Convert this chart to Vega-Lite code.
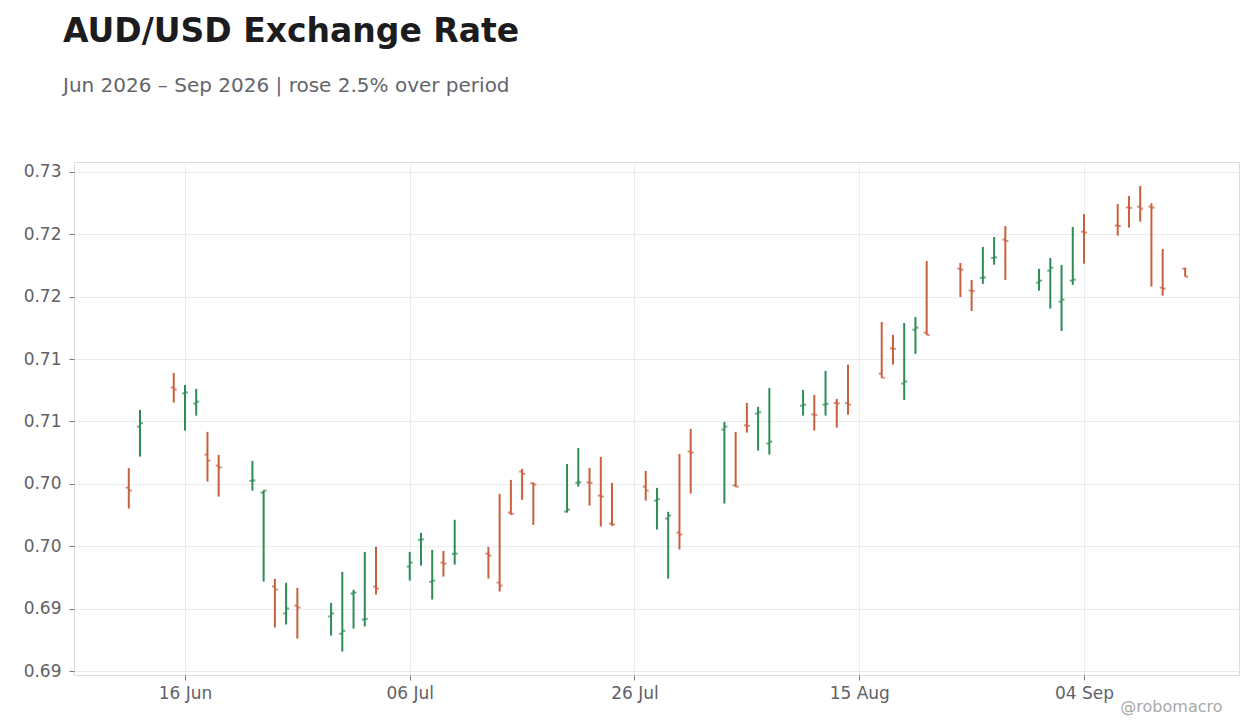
{
  "$schema": "https://vega.github.io/schema/vega-lite/v6.json",
  "width": 1165,
  "height": 513,
  "autosize": "none",
  "padding": {"left": 74, "top": 162, "right": 21, "bottom": 53},
  "background": "white",
  "title": {
    "text": "AUD/USD Exchange Rate",
    "subtitle": "Jun 2026 – Sep 2026 | rose 2.5% over period",
    "anchor": "start",
    "frame": "group",
    "dx": -11,
    "offset": 66,
    "font": "DejaVu Sans",
    "fontSize": 33,
    "fontWeight": "bold",
    "color": "#1c1c1e",
    "subtitleFont": "DejaVu Sans",
    "subtitleFontSize": 20,
    "subtitleColor": "#63656b",
    "subtitlePadding": 27
  },
  "config": {
    "font": "DejaVu Sans",
    "view": {"stroke": "#dcdcdc", "strokeWidth": 1}
  },
  "data": {
    "values": [
      {"d": "2026-06-11", "o": 0.70470, "h": 0.70626, "l": 0.70302, "c": 0.70446},
      {"d": "2026-06-12", "o": 0.70959, "h": 0.71093, "l": 0.70719, "c": 0.70986},
      {"d": "2026-06-15", "o": 0.71272, "h": 0.71389, "l": 0.71151, "c": 0.71256},
      {"d": "2026-06-16", "o": 0.71225, "h": 0.71293, "l": 0.70927, "c": 0.71233},
      {"d": "2026-06-17", "o": 0.71143, "h": 0.71261, "l": 0.71047, "c": 0.71159},
      {"d": "2026-06-18", "o": 0.70735, "h": 0.70917, "l": 0.70518, "c": 0.70687},
      {"d": "2026-06-19", "o": 0.70647, "h": 0.70732, "l": 0.70398, "c": 0.70631},
      {"d": "2026-06-22", "o": 0.70524, "h": 0.70684, "l": 0.70446, "c": 0.70528},
      {"d": "2026-06-23", "o": 0.70430, "h": 0.70448, "l": 0.69717, "c": 0.70446},
      {"d": "2026-06-24", "o": 0.69677, "h": 0.69739, "l": 0.69349, "c": 0.69653},
      {"d": "2026-06-25", "o": 0.69461, "h": 0.69707, "l": 0.69373, "c": 0.69501},
      {"d": "2026-06-26", "o": 0.69525, "h": 0.69667, "l": 0.69260, "c": 0.69509},
      {"d": "2026-06-29", "o": 0.69437, "h": 0.69546, "l": 0.69284, "c": 0.69461},
      {"d": "2026-06-30", "o": 0.69298, "h": 0.69795, "l": 0.69156, "c": 0.69322},
      {"d": "2026-07-01", "o": 0.69621, "h": 0.69651, "l": 0.69340, "c": 0.69629},
      {"d": "2026-07-02", "o": 0.69413, "h": 0.69955, "l": 0.69357, "c": 0.69418},
      {"d": "2026-07-03", "o": 0.69677, "h": 0.69995, "l": 0.69613, "c": 0.69661},
      {"d": "2026-07-06", "o": 0.69837, "h": 0.69955, "l": 0.69725, "c": 0.69869},
      {"d": "2026-07-07", "o": 0.70051, "h": 0.70107, "l": 0.69845, "c": 0.70055},
      {"d": "2026-07-08", "o": 0.69715, "h": 0.69971, "l": 0.69573, "c": 0.69725},
      {"d": "2026-07-09", "o": 0.69869, "h": 0.69963, "l": 0.69757, "c": 0.69861},
      {"d": "2026-07-10", "o": 0.69939, "h": 0.70212, "l": 0.69853, "c": 0.69941},
      {"d": "2026-07-13", "o": 0.69941, "h": 0.69995, "l": 0.69741, "c": 0.69925},
      {"d": "2026-07-14", "o": 0.69709, "h": 0.70420, "l": 0.69637, "c": 0.69685},
      {"d": "2026-07-15", "o": 0.70270, "h": 0.70532, "l": 0.70252, "c": 0.70260},
      {"d": "2026-07-16", "o": 0.70599, "h": 0.70620, "l": 0.70372, "c": 0.70580},
      {"d": "2026-07-17", "o": 0.70506, "h": 0.70510, "l": 0.70171, "c": 0.70494},
      {"d": "2026-07-20", "o": 0.70278, "h": 0.70660, "l": 0.70270, "c": 0.70294},
      {"d": "2026-07-21", "o": 0.70508, "h": 0.70788, "l": 0.70478, "c": 0.70512},
      {"d": "2026-07-22", "o": 0.70512, "h": 0.70628, "l": 0.70326, "c": 0.70508},
      {"d": "2026-07-23", "o": 0.70406, "h": 0.70716, "l": 0.70158, "c": 0.70398},
      {"d": "2026-07-24", "o": 0.70182, "h": 0.70508, "l": 0.70163, "c": 0.70174},
      {"d": "2026-07-27", "o": 0.70478, "h": 0.70604, "l": 0.70366, "c": 0.70446},
      {"d": "2026-07-28", "o": 0.70366, "h": 0.70468, "l": 0.70134, "c": 0.70377},
      {"d": "2026-07-29", "o": 0.70222, "h": 0.70276, "l": 0.69741, "c": 0.70246},
      {"d": "2026-07-30", "o": 0.70110, "h": 0.70740, "l": 0.69974, "c": 0.70094},
      {"d": "2026-07-31", "o": 0.70759, "h": 0.70941, "l": 0.70422, "c": 0.70751},
      {"d": "2026-08-03", "o": 0.70935, "h": 0.70997, "l": 0.70342, "c": 0.70959},
      {"d": "2026-08-04", "o": 0.70488, "h": 0.70917, "l": 0.70476, "c": 0.70478},
      {"d": "2026-08-05", "o": 0.70969, "h": 0.71149, "l": 0.70911, "c": 0.70965},
      {"d": "2026-08-06", "o": 0.71063, "h": 0.71117, "l": 0.70767, "c": 0.71074},
      {"d": "2026-08-07", "o": 0.70823, "h": 0.71269, "l": 0.70735, "c": 0.70839},
      {"d": "2026-08-10", "o": 0.71127, "h": 0.71253, "l": 0.71047, "c": 0.71135},
      {"d": "2026-08-11", "o": 0.71057, "h": 0.71213, "l": 0.70927, "c": 0.71053},
      {"d": "2026-08-12", "o": 0.71135, "h": 0.71405, "l": 0.71047, "c": 0.71141},
      {"d": "2026-08-13", "o": 0.71149, "h": 0.71181, "l": 0.70951, "c": 0.71145},
      {"d": "2026-08-14", "o": 0.71147, "h": 0.71456, "l": 0.71055, "c": 0.71135},
      {"d": "2026-08-17", "o": 0.71384, "h": 0.71798, "l": 0.71350, "c": 0.71350},
      {"d": "2026-08-18", "o": 0.71586, "h": 0.71694, "l": 0.71456, "c": 0.71582},
      {"d": "2026-08-19", "o": 0.71304, "h": 0.71790, "l": 0.71173, "c": 0.71320},
      {"d": "2026-08-20", "o": 0.71736, "h": 0.71838, "l": 0.71542, "c": 0.71752},
      {"d": "2026-08-21", "o": 0.71712, "h": 0.72287, "l": 0.71694, "c": 0.71694},
      {"d": "2026-08-24", "o": 0.72225, "h": 0.72271, "l": 0.71998, "c": 0.72217},
      {"d": "2026-08-25", "o": 0.72050, "h": 0.72135, "l": 0.71886, "c": 0.72046},
      {"d": "2026-08-26", "o": 0.72151, "h": 0.72399, "l": 0.72103, "c": 0.72155},
      {"d": "2026-08-27", "o": 0.72311, "h": 0.72479, "l": 0.72257, "c": 0.72316},
      {"d": "2026-08-28", "o": 0.72458, "h": 0.72567, "l": 0.72135, "c": 0.72447},
      {"d": "2026-08-31", "o": 0.72113, "h": 0.72223, "l": 0.72049, "c": 0.72129},
      {"d": "2026-09-01", "o": 0.72209, "h": 0.72311, "l": 0.71905, "c": 0.72233},
      {"d": "2026-09-02", "o": 0.71961, "h": 0.72255, "l": 0.71726, "c": 0.71977},
      {"d": "2026-09-03", "o": 0.72129, "h": 0.72559, "l": 0.72095, "c": 0.72137},
      {"d": "2026-09-04", "o": 0.72522, "h": 0.72663, "l": 0.72265, "c": 0.72514},
      {"d": "2026-09-07", "o": 0.72571, "h": 0.72744, "l": 0.72490, "c": 0.72567},
      {"d": "2026-09-08", "o": 0.72716, "h": 0.72808, "l": 0.72554, "c": 0.72712},
      {"d": "2026-09-09", "o": 0.72722, "h": 0.72888, "l": 0.72602, "c": 0.72706},
      {"d": "2026-09-10", "o": 0.72722, "h": 0.72749, "l": 0.72081, "c": 0.72714},
      {"d": "2026-09-11", "o": 0.72073, "h": 0.72383, "l": 0.72009, "c": 0.72065},
      {"d": "2026-09-13", "o": 0.72225, "h": 0.72233, "l": 0.72161, "c": 0.72161}
    ]
  },
  "encoding": {
    "x": {
      "field": "d",
      "type": "temporal",
      "scale": {
        "type": "utc",
        "domain": [
          {"year": 2026, "month": 6, "date": 6, "hours": 3, "utc": true},
          {"year": 2026, "month": 9, "date": 17, "hours": 19, "utc": true}
        ]
      },
      "axis": {
        "values": [
          {"year": 2026, "month": 6, "date": 16, "utc": true},
          {"year": 2026, "month": 7, "date": 6, "utc": true},
          {"year": 2026, "month": 7, "date": 26, "utc": true},
          {"year": 2026, "month": 8, "date": 15, "utc": true},
          {"year": 2026, "month": 9, "date": 4, "utc": true}
        ],
        "format": "%d %b",
        "labelFontSize": 17,
        "labelColor": "#5f6168",
        "labelPadding": 5,
        "tickSize": 5,
        "tickColor": "#777777",
        "domain": false,
        "grid": true,
        "gridColor": "#ececec",
        "title": "@robomacro",
        "titleFontSize": 16,
        "titleFontWeight": "normal",
        "titleColor": "#aaaaaa",
        "titleAlign": "right",
        "titleBaseline": "alphabetic",
        "titleX": 1148,
        "titleY": 36
      }
    },
    "color": {
      "condition": {"test": "datum.c >= datum.o", "value": "#2e8b57"},
      "value": "#c8603e"
    }
  },
  "layer": [
    {
      "mark": {"type": "rule", "strokeWidth": 2},
      "encoding": {
        "y": {
          "field": "l",
          "type": "quantitative",
          "scale": {"domain": [0.68968, 0.7308], "nice": false, "zero": false},
          "axis": {
            "title": null,
            "values": [0.69, 0.695, 0.7, 0.705, 0.71, 0.715, 0.72, 0.725, 0.73],
            "format": ".2f",
            "labelFontSize": 17,
            "labelColor": "#5f6168",
            "labelPadding": 8,
            "tickSize": 5,
            "tickColor": "#777777",
            "domain": false,
            "grid": true,
            "gridColor": "#ececec"
          }
        },
        "y2": {"field": "h"}
      }
    },
    {
      "mark": {"type": "tick", "orient": "horizontal", "size": 3, "thickness": 2, "xOffset": -1.5},
      "encoding": {
        "y": {"field": "o", "type": "quantitative", "axis": {"title": null}}
      }
    },
    {
      "mark": {"type": "tick", "orient": "horizontal", "size": 3, "thickness": 2, "xOffset": 1.5},
      "encoding": {
        "y": {"field": "c", "type": "quantitative", "axis": {"title": null}}
      }
    }
  ]
}
